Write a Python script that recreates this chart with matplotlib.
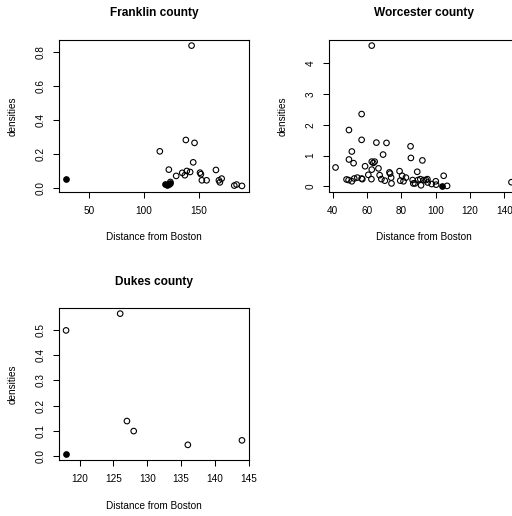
import numpy as np
import matplotlib
matplotlib.use('Agg')
import matplotlib.pyplot as plt

plt.rcParams['font.family'] = ['Liberation Sans', 'DejaVu Sans']

# Franklin county (open points, then filled points)
franklin_dist = [114.4, 122.6, 124.0, 129.3, 134.8, 137.2, 139.0, 142.0, 138.1, 146.0,
                 143.3, 144.8, 151.0, 151.8, 152.7, 157.0, 165.5, 168.2, 169.1, 170.7,
                 182.2, 184.3, 189.2]
franklin_dens = [0.214, 0.106, 0.033, 0.069, 0.087, 0.073, 0.098, 0.092, 0.281, 0.264,
                 0.838, 0.149, 0.088, 0.079, 0.043, 0.043, 0.104, 0.043, 0.031, 0.053,
                 0.012, 0.018, 0.010]
franklin_dist_f = [29.0, 119.5, 121.0, 122.5, 123.5]
franklin_dens_f = [0.049, 0.020, 0.018, 0.022, 0.028]

# Worcester county
worcester_dist = [41.6, 48.0, 49.2, 49.4, 49.4, 51.1, 51.1, 52.1, 52.5, 54.3,
                  56.8, 56.8, 56.8, 57.2, 58.8, 60.7, 62.5, 62.7, 62.7, 62.7,
                  63.6, 64.4, 65.4, 66.6, 67.3, 68.3, 69.3, 70.3, 71.3, 73.0,
                  73.4, 74.0, 74.2, 78.9, 79.3, 80.4, 81.2, 82.6, 85.3, 85.5,
                  86.5, 86.9, 87.9, 89.2, 89.6, 91.0, 91.4, 92.2, 93.0, 94.3,
                  95.1, 95.3, 97.6, 100.0, 100.2, 104.6, 106.6, 144.1]
worcester_dens = [0.61, 0.22, 0.20, 1.83, 0.87, 1.13, 0.16, 0.75, 0.25, 0.28,
                  2.35, 1.51, 0.25, 0.23, 0.65, 0.37, 0.23, 0.80, 0.54, 4.58,
                  0.76, 0.80, 1.42, 0.58, 0.36, 0.23, 1.03, 0.18, 1.41, 0.45,
                  0.41, 0.28, 0.09, 0.49, 0.18, 0.34, 0.16, 0.28, 1.30, 0.92,
                  0.20, 0.09, 0.09, 0.47, 0.20, 0.23, 0.03, 0.84, 0.20, 0.20,
                  0.23, 0.12, 0.07, 0.16, 0.05, 0.34, 0.01, 0.13]
worcester_dist_f = [103.5]
worcester_dens_f = [0.02]

# Dukes county
dukes_dist = [118.0, 126.0, 127.0, 128.0, 136.0, 144.0]
dukes_dens = [0.500, 0.567, 0.138, 0.098, 0.043, 0.061]
dukes_dist_f = [118.0]
dukes_dens_f = [0.005]

W, H = 512, 516
fig = plt.figure(figsize=(W / 100, H / 100), dpi=100)

def box(left, top, right, bottom):
    return [left / W, 1 - bottom / H, (right - left) / W, (bottom - top) / H]

def rlim(vals):
    lo, hi = min(vals), max(vals)
    d = (hi - lo) * 0.04
    return lo - d, hi + d

def panel(rect, title, xo, yo, xf, yf, xticks, yticks, yfmt):
    ax = fig.add_axes(rect)
    ax.scatter(xo, yo, s=16, facecolors='none', edgecolors='black', linewidths=0.8)
    ax.scatter(xf, yf, s=16, facecolors='black', edgecolors='black', linewidths=0.8)
    ax.set_xlim(rlim(xo + xf))
    ax.set_ylim(rlim(yo + yf))
    ax.set_xticks(xticks)
    ax.set_yticks(yticks)
    ax.set_yticklabels([yfmt.format(v) for v in yticks])
    ax.tick_params(direction='out', length=4.3, width=0.75, labelsize=7.2, color='black')
    ax.tick_params(axis='x', pad=6.0)
    ax.tick_params(axis='y', pad=5.2)
    plt.setp(ax.get_yticklabels(), rotation=90, va='center')
    for sp in ax.spines.values():
        sp.set_linewidth(0.8)
    hpx = rect[3] * H
    ax.set_title(title, fontsize=8.6, fontweight='bold', y=1 + 26.5 / hpx, va='center', pad=0)
    ax.set_xlabel('Distance from Boston', fontsize=7.2)
    ax.xaxis.set_label_coords(0.5, -46 / hpx)
    ax.xaxis.label.set_verticalalignment('center')
    ax.set_ylabel('densities', fontsize=7.2)
    ax.yaxis.set_label_coords(-46 / (rect[2] * W), 0.5)
    ax.yaxis.label.set_verticalalignment('center')
    return ax

panel(box(59, 40, 249, 191.5), 'Franklin county',
      franklin_dist, franklin_dens, franklin_dist_f, franklin_dens_f,
      [50, 100, 150], [0.0, 0.2, 0.4, 0.6, 0.8], '{:.1f}')
panel(box(328.5, 40, 518.5, 191.5), 'Worcester county',
      worcester_dist, worcester_dens, worcester_dist_f, worcester_dens_f,
      [40, 60, 80, 100, 120, 140], [0, 1, 2, 3, 4], '{:.0f}')
panel(box(59, 308, 249, 460), 'Dukes county',
      dukes_dist, dukes_dens, dukes_dist_f, dukes_dens_f,
      [120, 125, 130, 135, 140, 145], [0.0, 0.1, 0.2, 0.3, 0.4, 0.5], '{:.1f}')

fig.savefig('out.png', dpi=100)
